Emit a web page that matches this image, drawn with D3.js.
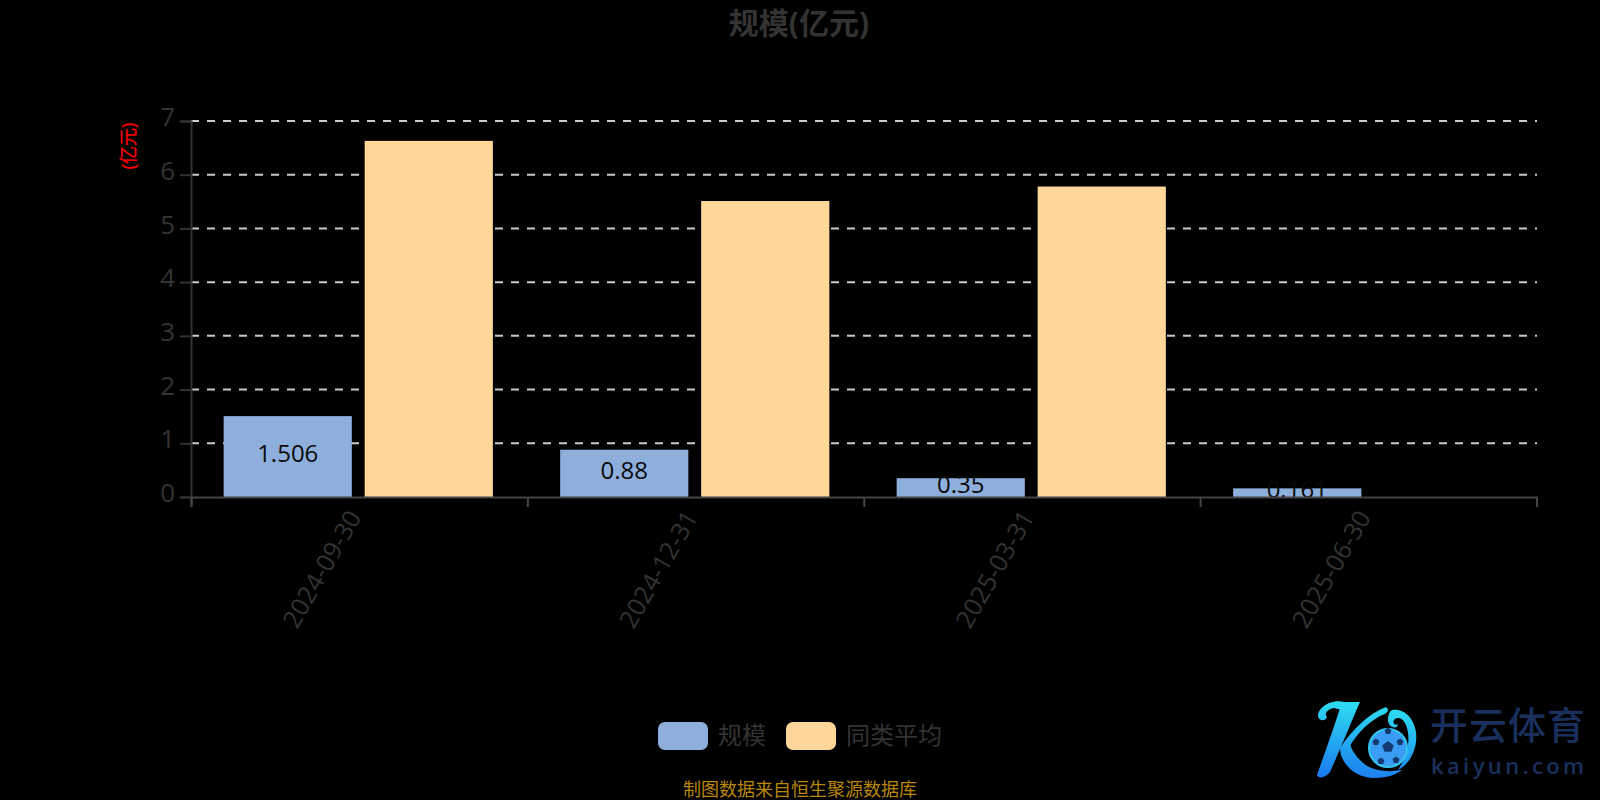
<!DOCTYPE html>
<html><head><meta charset="utf-8">
<script src="https://cdnjs.cloudflare.com/ajax/libs/d3/7.8.5/d3.min.js"></script>
<style>html,body{margin:0;padding:0;background:#000}svg{display:block}
text{font-family:"Open Sans","Noto Sans CJK SC",sans-serif}</style>
</head><body><svg id="c" width="1600" height="800"></svg>
<script>
const categories = ["2024-09-30","2024-12-31","2025-03-31","2025-06-30"];
const seriesNames = ["规模","同类平均"];
const scaleValues = [1.506,0.88,0.35,0.161];
const avgValues = [6.63,5.51,5.78,null];
const yTicks = [0,1,2,3,4,5,6,7];
const colors = ["#8eaedc","#ffd899"];
const titleText = "规模(亿元)", yName = "(亿元)", footer = "制图数据来自恒生聚源数据库";

const svg = d3.select("#c");
const L=191,R=1537,T=121,B=497;
const x = d3.scaleBand().domain(categories).range([L-1,R-1]).paddingInner(0.2).paddingOuter(0.1);
const xs = d3.scaleBand().domain(seriesNames).range([0,x.bandwidth()]).paddingInner(1/11);
const xEdge = d3.scaleLinear().domain([0,categories.length]).range([L,R-0.5]);
const y = d3.scaleLinear().domain([0,7]).range([B,T]);

svg.append("text").attr("x",799).attr("y",34).attr("text-anchor","middle")
  .attr("font-size",30).attr("font-weight",700).attr("fill","#333").text(titleText);

// grid
svg.append("g").selectAll("line").data(yTicks.filter(d=>d>0)).join("line")
  .attr("x1",L).attr("x2",R).attr("y1",d=>y(d)).attr("y2",d=>y(d))
  .attr("stroke","#ccc").attr("stroke-width",2).attr("stroke-dasharray","8 8");

// bars
const rows = categories.map((c,i)=>({c,vals:[scaleValues[i],avgValues[i]]}));
const gb = svg.append("g");
rows.forEach(r=>{
  r.vals.forEach((v,k)=>{
    if(v==null) return;
    gb.append("rect").attr("x",x(r.c)+xs(seriesNames[k])).attr("width",xs.bandwidth())
      .attr("y",y(v)).attr("height",B-y(v)).attr("fill",colors[k]);
  });
});
// labels
svg.append("g").selectAll("text").data(categories).join("text")
  .attr("x",c=>x(c)+xs(seriesNames[0])+xs.bandwidth()/2)
  .attr("y",(c,i)=>(y(scaleValues[i])+B)/2+5.5)
  .attr("text-anchor","middle").attr("font-size",24).attr("fill","#0a0a0a")
  .text((c,i)=>scaleValues[i]);

// y axis
const ya = d3.axisLeft(y).tickValues(yTicks).tickSize(11).tickPadding(5).tickFormat(d3.format("d"));
const gy = svg.append("g").attr("transform",`translate(${L},0)`).call(ya);
gy.selectAll("path,line").attr("stroke","#333").attr("stroke-width",2);
gy.selectAll("text").attr("font-size",26).attr("fill","#333").attr("dy","0.18em");

// x axis ticks at band edges
const xa = d3.axisBottom(xEdge).tickValues(d3.range(categories.length+1)).tickSize(10).tickFormat("");
const gx = svg.append("g").attr("transform",`translate(0,${B})`).call(xa);
gx.selectAll("path,line").attr("stroke","#444").attr("stroke-width",2);
const xl = d3.axisBottom(x).tickSize(0);
const gxl = svg.append("g").attr("transform",`translate(0,${B})`).call(xl);
gxl.select("path").remove();
gxl.selectAll("text").attr("font-size",25).attr("fill","#333")
  .attr("text-anchor","end").attr("dy",0)
  .attr("transform","translate(4,20) rotate(-60)").attr("y",0);

// y name
svg.append("text").attr("transform","translate(135,146) rotate(-90)").attr("text-anchor","middle")
  .attr("font-size",18).attr("fill","#f00").attr("stroke","#f00").attr("stroke-width",0.3).text(yName);

// legend
const lg = svg.append("g");
const legendX = d3.scaleOrdinal().domain(seriesNames).range([658,786]);
seriesNames.forEach((n,i)=>{
  lg.append("rect").attr("x",legendX(n)).attr("y",722).attr("width",50).attr("height",28).attr("rx",7).attr("fill",colors[i]);
  lg.append("text").attr("x",legendX(n)+60).attr("y",744).attr("font-size",24).attr("fill","#333").text(n);
});
svg.append("text").attr("x",800).attr("y",796).attr("text-anchor","middle").attr("font-size",18).attr("fill","#b8860b").text(footer);

// watermark logo
const defs = svg.append("defs");
const gr = defs.append("linearGradient").attr("id","lg").attr("gradientUnits","userSpaceOnUse").attr("x1",70).attr("y1",20).attr("x2",60).attr("y2",100);
gr.append("stop").attr("offset",0).attr("stop-color","#2fe0f0");
gr.append("stop").attr("offset",1).attr("stop-color","#1a78f0");
const logo = svg.append("g").attr("transform","translate(1280,680)");
const K = [
 "M62 22 L80 22 C72 40 60 70 50 92 C46 98 38 99 37 95 C44 75 55 45 62 22 Z",
 "M64 22 C52 19 38 27 38 36 C39 42 46 41 47 37 C44 34 47 29 54 28 L62 30 Z",
 "M60 68 C72 50 88 34 106 27 C110 30 108 33 100 36 C86 44 74 56 66 74 Z",
 "M60 68 C60 84 76 98 94 98 C106 98 116 95 122 90 C105 93 90 90 82 82 C74 74 72 70 70 64 Z",
 "M112 30 C124 28 134 38 136 52 C138 68 130 84 118 90 C126 78 131 62 127 48 C124 38 118 36 114 40 C112 44 116 46 118 44 C118 50 108 48 108 40 C108 35 110 31 112 30 Z"
];
logo.selectAll("path.k").data(K).join("path").attr("class","k").attr("fill","url(#lg)").attr("d",d=>d);
logo.append("circle").attr("cx",108).attr("cy",68).attr("r",19).attr("fill","#3a9cf2").attr("stroke","#35c4ee").attr("stroke-width",2);
const penta = d3.lineRadial().curve(d3.curveLinearClosed);
[[108,67,6],[96,62,3.6],[120,62,3.6],[101,81,3.6],[116,80,3.6],[108,51,3.6]].forEach(p=>{
  logo.append("path").attr("transform",`translate(${p[0]},${p[1]})`).attr("fill","#123a72")
    .attr("d",penta(d3.range(5).map(i=>[i*2*Math.PI/5,p[2]])));
});
logo.append("text").attr("x",150).attr("y",59).attr("font-size",38).attr("font-weight",500).attr("fill","#1a2f5c").attr("textLength",155).text("开云体育");
logo.append("text").attr("x",151).attr("y",94).attr("font-size",22).attr("font-weight",600).attr("fill","#1a2f5c").attr("textLength",153).text("kaiyun.com");
</script></body></html>
